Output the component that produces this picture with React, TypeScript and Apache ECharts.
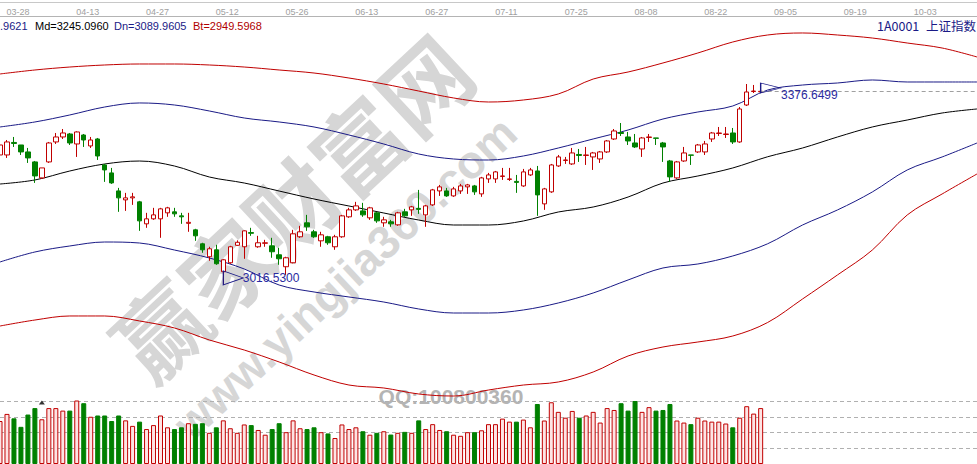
import React, { useEffect, useRef } from "react";
import * as echarts from "echarts";

const SLOTS = 141;
const CATEGORIES = Array.from({ length: SLOTS }, (_, i) => String(i));
const TICK_LABELS = ["03-28", "04-13", "04-27", "05-12", "05-26", "06-13", "06-27", "07-11", "07-25", "08-08", "08-22", "09-05", "09-19", "10-03"];
const FIRST_TICK = 3;
const TICK_EVERY = 10;

// [open, close, low, high]
const OHLC: number[][] = [
  [3248.3, 3266.1, 3243.0, 3271.5], [3248.3, 3271.5, 3243.0, 3275.0], [3270.6, 3268.8, 3262.6, 3280.4], [3266.1, 3253.7, 3248.3, 3266.1],
  [3253.7, 3243.0, 3234.1, 3260.8], [3235.9, 3210.9, 3198.5, 3237.6], [3207.4, 3225.2, 3205.6, 3225.2], [3235.9, 3269.7, 3234.1, 3271.5],
  [3271.5, 3280.4, 3267.9, 3287.5], [3280.4, 3287.5, 3276.8, 3294.6], [3285.7, 3269.7, 3266.1, 3287.5], [3267.9, 3289.3, 3244.8, 3290.5],
  [3283.9, 3275.0, 3262.6, 3285.7], [3264.4, 3275.0, 3260.8, 3280.4], [3276.8, 3246.5, 3239.4, 3278.6], [3230.5, 3221.6, 3200.3, 3232.3],
  [3216.3, 3198.5, 3196.7, 3225.2], [3184.2, 3171.8, 3146.9, 3189.6], [3168.2, 3171.8, 3148.6, 3180.7], [3171.8, 3173.6, 3159.3, 3180.7],
  [3164.7, 3130.8, 3113.0, 3166.4], [3125.5, 3134.4, 3118.4, 3145.1], [3134.4, 3141.5, 3132.6, 3154.0], [3134.4, 3152.2, 3100.6, 3154.0],
  [3145.1, 3154.0, 3138.0, 3155.8], [3146.9, 3143.3, 3138.0, 3154.0], [3139.7, 3138.0, 3125.5, 3145.1], [3126.4, 3128.2, 3111.3, 3145.1],
  [3114.8, 3104.1, 3095.2, 3116.6], [3089.9, 3079.2, 3073.9, 3091.7], [3066.8, 3081.0, 3059.6, 3084.6], [3079.2, 3054.3, 3052.5, 3088.1],
  [3040.1, 3061.4, 3016.53, 3062.5], [3056.1, 3084.6, 3054.3, 3086.3], [3087.2, 3092.6, 3086.3, 3096.1], [3084.6, 3113.0, 3063.2, 3113.8],
  [3109.9, 3108.6, 3104.1, 3118.4], [3084.6, 3091.7, 3082.8, 3104.1], [3090.8, 3091.7, 3084.6, 3097.0], [3086.3, 3075.7, 3065.0, 3100.6],
  [3070.3, 3063.2, 3052.5, 3082.8], [3049.0, 3065.0, 3034.7, 3066.8], [3056.1, 3107.7, 3055.0, 3114.8], [3102.4, 3111.3, 3100.6, 3121.9],
  [3127.3, 3120.2, 3113.0, 3141.5], [3111.3, 3102.4, 3100.6, 3114.8], [3095.2, 3105.9, 3084.6, 3111.3], [3102.4, 3091.7, 3088.1, 3104.1],
  [3084.6, 3102.4, 3079.2, 3105.9], [3102.4, 3139.7, 3100.6, 3141.5], [3138.0, 3150.4, 3136.2, 3154.0], [3150.4, 3157.5, 3148.6, 3164.7],
  [3148.6, 3141.5, 3138.0, 3162.9], [3136.2, 3154.0, 3132.6, 3155.8], [3145.1, 3130.8, 3127.3, 3146.9], [3127.3, 3132.6, 3120.2, 3138.0],
  [3129.1, 3125.5, 3120.2, 3132.6], [3123.7, 3145.1, 3121.9, 3146.9], [3146.9, 3139.7, 3138.0, 3152.2], [3150.4, 3155.8, 3139.7, 3157.5],
  [3153.1, 3151.3, 3143.3, 3186.0], [3141.5, 3157.5, 3120.2, 3159.3], [3159.3, 3186.0, 3157.5, 3187.8], [3184.2, 3191.4, 3175.3, 3194.9],
  [3184.2, 3175.3, 3173.6, 3189.6], [3175.3, 3187.8, 3173.6, 3191.4], [3184.2, 3193.1, 3178.9, 3196.7], [3191.4, 3194.9, 3178.9, 3196.7],
  [3193.1, 3182.5, 3177.1, 3194.9], [3178.9, 3207.4, 3173.6, 3209.2], [3205.6, 3212.7, 3198.5, 3216.3], [3205.6, 3218.1, 3198.5, 3219.8],
  [3210.0, 3210.9, 3203.8, 3225.2], [3204.7, 3205.6, 3202.0, 3225.2], [3201.2, 3199.4, 3180.7, 3212.7], [3193.1, 3218.1, 3191.4, 3223.4],
  [3212.7, 3221.6, 3210.9, 3225.2], [3219.8, 3177.1, 3139.7, 3228.7], [3161.1, 3187.8, 3150.4, 3189.6], [3182.5, 3230.5, 3180.7, 3232.3],
  [3228.7, 3244.8, 3227.0, 3248.3], [3238.5, 3239.4, 3232.3, 3244.8], [3232.3, 3251.9, 3230.5, 3260.8], [3249.2, 3247.4, 3235.9, 3259.0],
  [3247.4, 3248.3, 3230.5, 3262.6], [3244.8, 3251.9, 3221.6, 3253.7], [3241.2, 3253.7, 3234.1, 3255.4], [3253.7, 3273.3, 3251.9, 3275.0],
  [3276.8, 3291.1, 3275.0, 3294.6], [3288.4, 3286.6, 3282.2, 3305.3], [3280.4, 3273.3, 3266.1, 3289.3], [3269.7, 3262.6, 3260.8, 3285.7],
  [3259.0, 3278.6, 3244.8, 3280.4], [3279.5, 3280.4, 3271.5, 3285.7], [3278.6, 3278.0, 3266.1, 3278.6], [3269.7, 3262.6, 3235.9, 3271.5],
  [3237.6, 3209.2, 3200.3, 3239.4], [3207.4, 3235.9, 3205.6, 3237.6], [3237.6, 3251.9, 3235.9, 3262.6], [3248.3, 3247.8, 3230.5, 3248.3],
  [3253.7, 3266.1, 3251.9, 3267.9], [3253.7, 3267.9, 3248.3, 3273.3], [3276.8, 3287.5, 3271.5, 3289.3], [3286.6, 3287.5, 3282.2, 3298.2],
  [3284.8, 3285.7, 3278.6, 3298.2], [3287.5, 3271.5, 3267.9, 3296.4], [3271.5, 3330.3, 3270.0, 3333.8], [3337.4, 3360.6, 3335.6, 3374.8],
  [3361.4, 3362.3, 3358.8, 3373.1], [3360.9, 3361.8, 3358.8, 3376.65],
];

// volume, in units where the dashed guide lines sit at 1, 2, 3, 4
const VOLUME: number[] = [
  2.73, 3.18, 2.90, 2.36, 3.14, 3.55, 2.84, 3.55, 3.55, 3.39,
  3.39, 4.04, 3.86, 3.00, 3.08, 3.08, 2.73, 3.08, 2.77, 2.42,
  2.69, 2.22, 2.47, 3.08, 2.33, 2.22, 2.33, 2.59, 2.55, 2.59,
  1.98, 2.33, 2.77, 2.27, 1.98, 2.51, 2.47, 2.16, 1.86, 2.22,
  2.59, 2.02, 2.77, 2.27, 2.22, 2.33, 2.02, 1.94, 1.65, 2.51,
  2.22, 2.33, 2.08, 1.86, 1.98, 2.08, 1.87, 1.98, 2.04, 1.98,
  2.77, 2.22, 2.53, 2.16, 2.08, 1.86, 1.79, 2.02, 2.02, 2.14,
  2.53, 2.53, 2.88, 2.69, 2.69, 2.82, 2.33, 3.81, 2.76, 3.92,
  3.31, 2.94, 3.37, 2.94, 3.08, 3.31, 2.63, 3.55, 3.43, 3.86,
  3.39, 4.00, 3.31, 3.61, 3.39, 3.43, 3.81, 2.76, 2.63, 2.53,
  2.94, 2.76, 2.69, 2.69, 2.57, 2.33, 2.94, 3.67, 3.20, 3.55,
];

// band lines, one value every BAND_STEP slots (slot 0, 5, 10, ... 140)
const BAND_STEP = 5;
const BAND_TOP = [3392.7, 3399.8, 3405.1, 3408.7, 3410.5, 3410.5, 3408.7, 3405.1, 3399.8, 3394.4, 3385.5, 3374.8, 3362.3, 3349.9, 3342.7, 3346.3, 3357.0, 3383.7, 3396.2, 3412.3, 3430.1, 3449.7, 3462.2, 3465.8, 3462.2, 3456.8, 3447.9, 3439.0, 3423.0];
const BAND_UP = [3298.2, 3307.1, 3319.6, 3333.8, 3341.0, 3337.4, 3326.7, 3314.2, 3307.1, 3298.2, 3283.9, 3267.8, 3250.0, 3241.1, 3239.3, 3246.5, 3260.7, 3276.8, 3292.8, 3312.4, 3324.9, 3335.6, 3364.1, 3373.0, 3376.6, 3382.0, 3378.4, 3378.4, 3378.4];
const BAND_MD = [3196.5, 3203.7, 3219.7, 3232.2, 3237.5, 3228.6, 3209.0, 3198.3, 3184.0, 3169.8, 3157.3, 3144.8, 3132.3, 3123.4, 3123.4, 3130.6, 3146.6, 3155.5, 3173.3, 3198.3, 3210.8, 3225.1, 3245.1, 3260.7, 3280.3, 3298.2, 3310.6, 3323.1, 3330.3];
const BAND_DN = [3057.5, 3075.3, 3086.0, 3093.1, 3091.3, 3078.8, 3064.6, 3045.0, 3016.4, 3004.0, 2995.1, 2986.1, 2973.7, 2966.5, 2966.5, 2971.9, 2984.4, 3002.2, 3025.4, 3046.8, 3053.9, 3068.2, 3089.96, 3123.4, 3150.2, 3182.3, 3221.5, 3244.7, 3269.6];
const BAND_BT = [2943.3, 2954.0, 2961.2, 2961.2, 2952.3, 2939.8, 2918.4, 2900.5, 2879.2, 2856.0, 2838.1, 2832.8, 2822.1, 2818.5, 2829.2, 2838.1, 2843.5, 2861.3, 2889.9, 2905.9, 2914.8, 2925.5, 2949.6, 2991.5, 3034.3, 3078.8, 3141.3, 3178.7, 3214.4];

const LOW_POINT = { index: 32, value: 3016.53, label: "3016.5300" };
const HIGH_POINT = { index: 109, value: 3376.65, label: "3376.6499" };
const VOLUME_MARK = { index: 6, value: 3.91 };

const LEGEND_TEXTS = [".9621", "Md=3245.0960", "Dn=3089.9605", "Bt=2949.5968"];
const CODE_TEXT = "1A0001";
const NAME_TEXT = "上证指数";
const WATERMARK_MAIN = "赢家财富网";
const WATERMARK_URL = "www.yingjia360.com";
const WATERMARK_QQ = "QQ:100800360";

const Y_MIN = 2811.4;
const Y_MAX = 3471.1;

const RED = "#c00000";
const GREEN = "#008000";
const NAVY = "#1a1a86";

function sparse(values: number[]) {
  const out: (number | null)[] = new Array(SLOTS).fill(null);
  values.forEach((v, i) => {
    out[i * BAND_STEP] = v;
  });
  return out;
}

export default function App() {
  const ref = useRef<HTMLDivElement>(null);
  useEffect(() => {
    document.body.style.margin = "0";
    if (!ref.current) return;
    const chart = echarts.init(ref.current, undefined, { renderer: "svg" });
    const lastClose = OHLC[OHLC.length - 1][1];
    const volData = VOLUME.map((v, i) => {
      const up = OHLC[i][1] >= OHLC[i][0];
      return {
        value: v,
        itemStyle: up
          ? { color: "#fde4e4", borderColor: RED, borderWidth: 1 }
          : { color: GREEN, borderColor: GREEN, borderWidth: 1 },
      };
    });
    const bandLine = (name: string, vals: number[], color: string) => ({
      name,
      type: "line",
      xAxisIndex: 0,
      yAxisIndex: 0,
      data: sparse(vals),
      connectNulls: true,
      smooth: 0.35,
      showSymbol: false,
      symbol: "none",
      clip: false,
      silent: true,
      z: 3,
      lineStyle: { color, width: 1 },
    });
    const legendX = [0, 35, 114, 193];
    const legendColors = [NAVY, "#000000", NAVY, "#b00000"];
    const option: any = {
      animation: false,
      backgroundColor: "#ffffff",
      grid: [
        { left: -1, width: 980, top: 30, height: 370 },
        { left: -1, width: 980, top: 401, height: 65.3 },
      ],
      xAxis: [
        {
          type: "category",
          gridIndex: 0,
          data: CATEGORIES,
          boundaryGap: false,
          position: "top",
          offset: 14,
          axisLine: { show: true, lineStyle: { color: "#b4b4b4", width: 1 } },
          axisTick: { show: false },
          splitLine: { show: false },
          axisLabel: {
            show: true,
            interval: (i: number) => i >= FIRST_TICK && (i - FIRST_TICK) % TICK_EVERY === 0,
            formatter: (_v: string, i: number) => TICK_LABELS[(i - FIRST_TICK) / TICK_EVERY] ?? "",
            color: "#a0a0a0",
            fontSize: 9,
            fontFamily: "Liberation Sans",
            margin: 0,
            padding: [0, 6, 0, 0],
          },
        },
        {
          type: "category",
          gridIndex: 1,
          data: CATEGORIES,
          boundaryGap: false,
          show: false,
        },
      ],
      yAxis: [
        { type: "value", gridIndex: 0, min: Y_MIN, max: Y_MAX, show: false, splitLine: { show: false } },
        {
          type: "value",
          gridIndex: 1,
          min: 0,
          max: 4,
          interval: 1,
          axisLine: { show: false },
          axisTick: { show: false },
          axisLabel: { show: false },
          splitLine: { show: true, lineStyle: { color: "#b0b0b0", type: [4, 3], width: 1 } },
        },
      ],
      graphic: [
        { type: "line", z: 1, shape: { x1: 0, y1: 2.5, x2: 977, y2: 2.5 }, style: { stroke: "#c8c8c8", lineWidth: 1 } },
        {
          type: "text", x: 290, y: 205, rotation: 0.75, z: -10, silent: true,
          style: { text: WATERMARK_MAIN, font: 'bold 90px "Noto Sans CJK SC"', fill: "#d6d6d6", textAlign: "center", textVerticalAlign: "middle" },
        },
        {
          type: "text", x: 345, y: 278, rotation: 0.75, z: -10, silent: true,
          style: { text: WATERMARK_URL, font: 'bold 46px "Liberation Sans"', fill: "#d6d6d6", textAlign: "center", textVerticalAlign: "middle" },
        },
        {
          type: "text", x: 451, y: 396, z: -10, silent: true,
          style: { text: WATERMARK_QQ, font: 'bold 21px "Liberation Sans"', fill: "#b4b4b4", textAlign: "center", textVerticalAlign: "middle" },
        },
        ...LEGEND_TEXTS.map((t, i) => ({
          type: "text", x: legendX[i], y: 25.5, z: 10,
          style: { text: t, font: '11px "Liberation Sans"', fill: legendColors[i], textAlign: "left", textVerticalAlign: "middle" },
        })),
        {
          type: "text", x: 877, y: 25.5, z: 10,
          style: { text: CODE_TEXT, font: '12.5px "Noto Sans CJK SC"', fill: NAVY, textAlign: "left", textVerticalAlign: "middle" },
        },
        {
          type: "text", x: 976, y: 25.5, z: 10,
          style: { text: NAME_TEXT, font: '12.5px "Noto Sans CJK SC"', fill: NAVY, textAlign: "right", textVerticalAlign: "middle" },
        },
      ],
      series: [
        {
          name: "K",
          type: "candlestick",
          xAxisIndex: 0,
          yAxisIndex: 0,
          data: OHLC,
          barWidth: 5,
          z: 4,
          itemStyle: { color: "#ffffff", color0: GREEN, borderColor: RED, borderColor0: GREEN, borderWidth: 1 },
          markLine: {
            silent: true,
            symbol: "none",
            label: { show: false },
            lineStyle: { color: "#a0a0a0", type: [4, 3], width: 1 },
            data: [[{ coord: [OHLC.length - 1, lastClose] }, { coord: [SLOTS - 1, lastClose] }]],
          },
          markPoint: {
            silent: true,
            data: [
              {
                coord: [HIGH_POINT.index, HIGH_POINT.value],
                value: HIGH_POINT.label,
                symbol: "path://M0,0L20,5L0,10Z",
                symbolSize: [20, 10],
                symbolOffset: [10, 5],
                itemStyle: { color: "rgba(0,0,0,0)", borderColor: NAVY, borderWidth: 1 },
                label: { show: true, position: [21, 12], align: "left", verticalAlign: "middle", color: "#2a2aa0", fontSize: 12, fontFamily: "Liberation Sans", formatter: (p: any) => p.value },
              },
              {
                coord: [LOW_POINT.index, LOW_POINT.value],
                value: LOW_POINT.label,
                symbol: "path://M0,14L20,7L0,0Z",
                symbolSize: [20, 14],
                symbolOffset: [10, -7],
                itemStyle: { color: "rgba(0,0,0,0)", borderColor: NAVY, borderWidth: 1 },
                label: { show: true, position: [20, 7], align: "left", verticalAlign: "middle", color: "#2a2aa0", fontSize: 12, fontFamily: "Liberation Sans", formatter: (p: any) => p.value },
              },
            ],
          },
        },
        bandLine("Top", BAND_TOP, RED),
        bandLine("Up", BAND_UP, NAVY),
        bandLine("Md", BAND_MD, "#000000"),
        bandLine("Dn", BAND_DN, NAVY),
        bandLine("Bt", BAND_BT, RED),
        {
          name: "VOL",
          type: "bar",
          xAxisIndex: 1,
          yAxisIndex: 1,
          data: volData,
          barWidth: 5,
          z: 4,
        },
        {
          name: "mark",
          type: "scatter",
          xAxisIndex: 1,
          yAxisIndex: 1,
          symbol: "triangle",
          symbolSize: [6, 4],
          itemStyle: { color: "#000000" },
          data: [[VOLUME_MARK.index, VOLUME_MARK.value]],
          z: 5,
        },
      ],
    };
    chart.setOption(option);
    return () => chart.dispose();
  }, []);
  return <div ref={ref} style={{ width: 977, height: 464 }} />;
}
